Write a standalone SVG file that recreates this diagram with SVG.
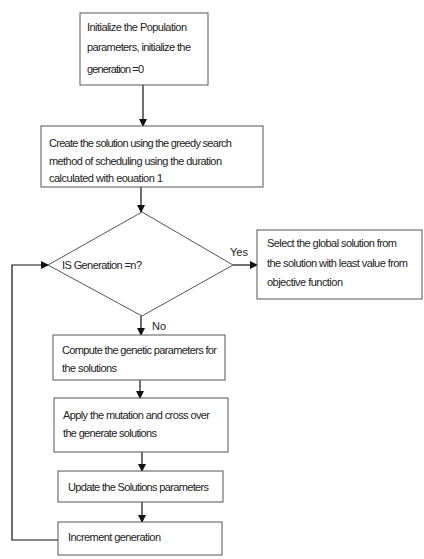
<svg xmlns="http://www.w3.org/2000/svg" width="424" height="559" viewBox="0 0 424 559">
<defs>
<marker id="ah" markerWidth="8" markerHeight="8" refX="7" refY="4" orient="auto" markerUnits="userSpaceOnUse">
<path d="M0,0 L8,4 L0,8 z" fill="#111"/>
</marker>
<style>
.box{fill:#fff;stroke:#555;stroke-width:1}
.t{font-family:"Liberation Sans",Arial,sans-serif;font-size:11px;fill:#222}
.c{fill:none;stroke:#111;stroke-width:1.2}
</style>
</defs>
<rect width="424" height="559" fill="#fff"/>
<g id="connectors">
<path class="c" d="M143,85 V126" marker-end="url(#ah)"/>
<path class="c" d="M141,187 V212" marker-end="url(#ah)"/>
<path class="c" d="M233,265 H257" marker-end="url(#ah)"/>
<path class="c" d="M141,316 V335" marker-end="url(#ah)"/>
<path class="c" d="M140,380 V398" marker-end="url(#ah)"/>
<path class="c" d="M142,452 V471" marker-end="url(#ah)"/>
<path class="c" d="M142,502 V522" marker-end="url(#ah)"/>
<path class="c" d="M58,540 H12 V265 H48" marker-end="url(#ah)"/>
<text class="t" x="230" y="256" font-size="12.5">Yes</text>
<text class="t" x="152" y="330" font-size="12.5">No</text>
</g>
<g id="n1">
<rect class="box" x="80" y="13" width="128" height="72"/>
<text class="t" x="87" y="31" textLength="100">Initialize the Population</text>
<text class="t" x="87" y="51" textLength="104">parameters, initialize the</text>
<text class="t" x="87" y="73" textLength="57">generation =0</text>
</g>
<g id="n2">
<rect class="box" x="41" y="126" width="222" height="61"/>
<text class="t" x="49" y="147" textLength="183">Create the solution using the greedy search</text>
<text class="t" x="49" y="165" textLength="173">method of scheduling using the duration</text>
<text class="t" x="49" y="182" textLength="114">calculated with eouation 1</text>
</g>
<g id="n3">
<polygon class="box" points="142,212 233,265 142,316 48,265"/>
<text class="t" x="62" y="269" textLength="80">IS Generation =n?</text>
</g>
<g id="n4">
<rect class="box" x="257" y="230" width="165" height="69"/>
<text class="t" x="267" y="247" textLength="130">Select the global solution from</text>
<text class="t" x="267" y="267" textLength="141">the solution with least value from</text>
<text class="t" x="267" y="286" textLength="76">objective function</text>
</g>
<g id="n5">
<rect class="box" x="53" y="335" width="172" height="45"/>
<text class="t" x="62" y="354" textLength="155">Compute the genetic parameters for</text>
<text class="t" x="62" y="372" textLength="55">the solutions</text>
</g>
<g id="n6">
<rect class="box" x="54" y="398" width="174" height="54"/>
<text class="t" x="63" y="419" textLength="147">Apply the mutation and cross over</text>
<text class="t" x="63" y="437" textLength="94">the generate solutions</text>
</g>
<g id="n7">
<rect class="box" x="58" y="471" width="165" height="31"/>
<text class="t" x="68" y="491" textLength="141">Update the Solutions parameters</text>
</g>
<g id="n8">
<rect class="box" x="58" y="522" width="164" height="33"/>
<text class="t" x="68" y="541" textLength="93">Increment generation</text>
</g>
</svg>
